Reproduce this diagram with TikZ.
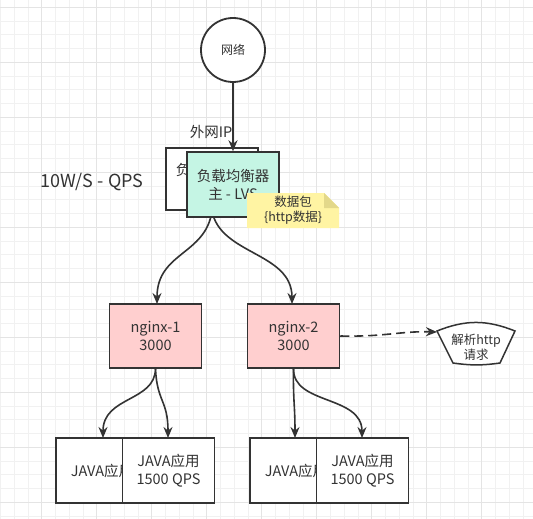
\documentclass[tikz,border=0pt]{standalone}
\usepackage{fontspec}
\setmainfont{Noto Sans CJK SC}
\usetikzlibrary{arrows.meta}
\definecolor{ink}{HTML}{333333}
\definecolor{gridminor}{HTML}{F1F1F1}
\definecolor{gridmajor}{HTML}{E4E4E4}
\definecolor{lvsfill}{HTML}{C5F5E4}
\definecolor{nginxfill}{HTML}{FFCFCF}
\definecolor{notefill}{HTML}{FFF4A3}
\definecolor{notefold}{HTML}{E3D88A}
\begin{document}
\begin{tikzpicture}[x=1pt,y=-1pt,
  box/.style={draw=ink,line width=1.5pt,minimum width=92pt,minimum height=64pt,
    inner sep=0pt,align=center,text=ink,font=\fontsize{14.5}{17.5}\selectfont},
  plain/.style={text=ink,align=center,inner sep=0pt},
  link/.style={draw=ink,line width=1.6pt,-{Stealth[length=11pt,width=9pt]}}]
% background and grid
\fill[white] (0,0) rectangle (533,519);
\useasboundingbox (0,0) rectangle (533,519);
\foreach \i in {0,...,38}
  \draw[gridminor,line width=0.8pt] (0.45+13.75*\i,0) -- (0.45+13.75*\i,519);
\foreach \i in {0,...,37}
  \draw[gridminor,line width=0.8pt] (0,7.3+13.75*\i) -- (533,7.3+13.75*\i);
\foreach \i in {0,...,9}
  \draw[gridmajor,line width=0.8pt] (41.7+55*\i,0) -- (41.7+55*\i,519);
\foreach \i in {0,...,9}
  \draw[gridmajor,line width=0.8pt] (0,7.3+55*\i) -- (533,7.3+55*\i);
% the network
\node[draw=ink,line width=1.8pt,circle,minimum size=64pt,fill=white,plain,
  font=\fontsize{12}{14}\selectfont] (net) at (233,50) {网络};
\node[plain,font=\fontsize{14.5}{17}\selectfont] (wan) at (211,132) {外网IP};
\node[plain,font=\fontsize{18}{20}\selectfont] (qps) at (92,182) {10W/S - QPS};
% the two LVS boxes
\node[box,fill=white,minimum height=62pt] (lvsb) at (212,179) {负载均衡器\\备 - LVS};
\draw[link] (lvsb.south) .. controls (206,255) and (157,252) .. (157,304);
\draw[link] (lvsb.south) .. controls (220,255) and (292,252) .. (292,304);
\node[box,fill=lvsfill,minimum height=65pt] (lvsm) at (233,184.5) {负载均衡器\\主 - LVS};
\draw[link] (net.south) -- (lvsm.north);
% the note
\fill[notefill] (247,193) -- (324,193) -- (339,208) -- (339,228) -- (247,228) -- cycle;
\fill[notefold] (324,193) -- (324,208) -- (339,208) -- cycle;
\node[plain,font=\fontsize{12.5}{15}\selectfont] (note) at (293,210.5) {数据包\\\{http数据\}};
% nginx
\node[box,fill=nginxfill] (ngx1) at (155.5,336) {nginx-1\\3000};
\node[box,fill=nginxfill] (ngx2) at (293.5,336) {nginx-2\\3000};
% java apps
\node[box,fill=white,minimum height=65pt] (java1a) at (102,470.5) {JAVA应用};
\node[box,fill=white,minimum height=65pt] (java1b) at (168.5,470.5) {JAVA应用\\1500 QPS};
\node[box,fill=white,minimum height=65pt] (java2a) at (296,470.5) {JAVA应用};
\node[box,fill=white,minimum height=65pt] (java2b) at (362.5,470.5) {JAVA应用\\1500 QPS};
\draw[link] (ngx1.south) .. controls (155,402) and (103,396) .. (103,438);
\draw[link] (ngx1.south) .. controls (157,402) and (168,400) .. (168,438);
\draw[link] (ngx2.south) .. controls (293,400) and (295,405) .. (295,438);
\draw[link] (ngx2.south) .. controls (293,405) and (362,395) .. (362,438);
% parse request
\draw[ink,line width=1.5pt,fill=white] (437,331) to[bend left=22] (515,331)
  -- (500,363) to[bend left=8] (453,363) -- cycle;
\node[plain,font=\fontsize{12.5}{15}\selectfont] (parse) at (476,347) {解析http\\请求};
\coordinate (parsein) at (437,332);
\draw[link,dashed,dash pattern=on 9pt off 5pt] (ngx2.east) .. controls (385,337) and (400,331) .. (parsein);
\end{tikzpicture}
\end{document}
